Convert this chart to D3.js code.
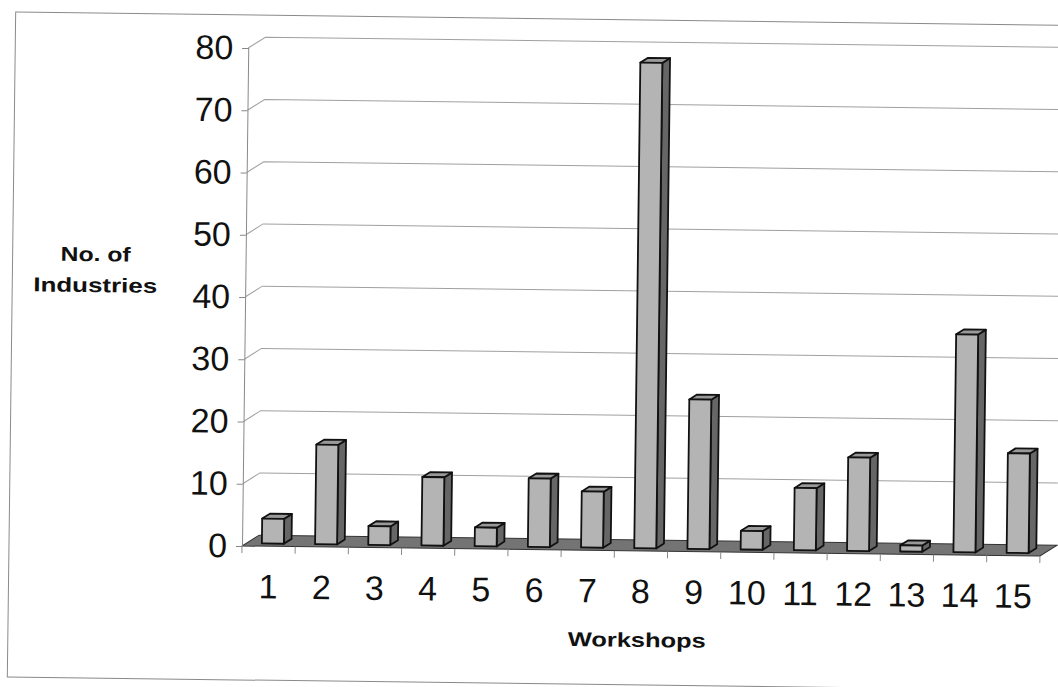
<!DOCTYPE html>
<html>
<head>
<meta charset="utf-8">
<script src="https://cdn.jsdelivr.net/npm/d3@7"></script>
<style>
  body { margin: 0; background: #fff; }
  svg { display: block; font-family: "Liberation Sans", Arial, sans-serif; }
</style>
</head>
<body>
<div id="chart"></div>
<script>
// ---- data ----
const workshops = ["1","2","3","4","5","6","7","8","9","10","11","12","13","14","15"];
const industries = [4, 16, 3, 11, 3, 11, 9, 78, 24, 3, 10, 15, 1, 35, 16];
const yTicks = [0, 10, 20, 30, 40, 50, 60, 70, 80];

const W = 1058, H = 687;
const DX = 17, DY = 11;          // depth of the 3D floor
const axisX = 242, floorY = 546, floorRight = 1040;

const svg = d3.select("#chart").append("svg")
  .attr("width", W).attr("height", H);

// whole scanned page is tilted a little
const g = svg.append("g").attr("transform", "rotate(0.72, 245, 545)");

// frame
g.append("rect")
  .attr("x", 9).attr("y", 15).attr("width", 1080).attr("height", 665)
  .attr("fill", "none").attr("stroke", "#8a8a8a").attr("stroke-width", 1);

const x = d3.scaleBand().domain(workshops).range([axisX, floorRight]);
const y = d3.scaleLinear().domain([0, 80]).range([floorY, 48]);

// gridlines on the back wall, with the diagonal from each tick
const grid = g.append("g").attr("stroke", "#a0a0a0").attr("stroke-width", 1).attr("fill", "none");
grid.selectAll("path").data(yTicks.filter(t => t > 0)).join("path")
  .attr("d", t => `M${axisX},${y(t)} L${axisX + DX},${y(t) - DY} L${floorRight + DX},${y(t) - DY}`);

// floor
g.append("path")
  .attr("d", `M${axisX},${floorY} L${floorRight},${floorY} L${floorRight + DX},${floorY - DY} L${axisX + DX},${floorY - DY} Z`)
  .attr("fill", "#747474").attr("stroke", "#333").attr("stroke-width", 1);

// x tick marks at band boundaries
const bounds = d3.range(workshops.length + 1).map(i => axisX + i * x.step());
g.append("g").selectAll("line").data(bounds).join("line")
  .attr("x1", d => d).attr("x2", d => d)
  .attr("y1", floorY).attr("y2", floorY + 7)
  .attr("stroke", "#888").attr("stroke-width", 1);

// y axis
const yAxis = g.append("g")
  .attr("transform", `translate(${axisX},0)`)
  .call(d3.axisLeft(y).tickValues(yTicks).tickSize(6).tickPadding(9));
yAxis.select(".domain").attr("stroke", "#888");
yAxis.selectAll(".tick line").attr("stroke", "#888");
yAxis.selectAll("text").attr("font-size", 34).attr("fill", "#111")
  .attr("font-family", "Liberation Sans, Arial, sans-serif");

// x axis labels
const xAxis = g.append("g")
  .attr("transform", `translate(0,${floorY})`)
  .call(d3.axisBottom(x).tickSize(0).tickPadding(28));
xAxis.select(".domain").remove();
xAxis.selectAll("text").attr("font-size", 34).attr("fill", "#111")
  .attr("font-family", "Liberation Sans, Arial, sans-serif");

// 3D columns
const f = 0.25, depth = 0.45;
const barW = 22;
const dx = DX * depth, dy = DY * depth;
const data = workshops.map((w, i) => ({ name: w, value: industries[i] }));

const bars = g.append("g").selectAll("g").data(data).join("g")
  .attr("stroke", "#111").attr("stroke-width", 1.8).attr("stroke-linejoin", "round");

function geo(d) {
  const bx = x(d.name) + (x.bandwidth() - barW) / 2 + f * DX;
  const base = y(0) - f * DY;
  const top = y(d.value) - f * DY;
  return { bx, base, top };
}

bars.append("path")
  .attr("fill", "#666")
  .attr("d", d => {
    const { bx, base, top } = geo(d);
    return `M${bx + barW},${top} L${bx + barW + dx},${top - dy} L${bx + barW + dx},${base - dy} L${bx + barW},${base} Z`;
  });
bars.append("path")
  .attr("fill", "#999")
  .attr("d", d => {
    const { bx, top } = geo(d);
    return `M${bx},${top} L${bx + dx},${top - dy} L${bx + barW + dx},${top - dy} L${bx + barW},${top} Z`;
  });
bars.append("rect")
  .attr("fill", "#b4b4b4")
  .attr("x", d => geo(d).bx)
  .attr("y", d => geo(d).top)
  .attr("width", barW)
  .attr("height", d => geo(d).base - geo(d).top);

// axis titles
const ttl = g.append("g").attr("font-weight", "bold").attr("font-size", 20)
  .attr("fill", "#111").attr("text-anchor", "middle");
ttl.append("text").attr("x", 92).attr("y", 263)
  .attr("textLength", 70).attr("lengthAdjust", "spacingAndGlyphs").text("No. of");
ttl.append("text").attr("x", 92).attr("y", 294)
  .attr("textLength", 124).attr("lengthAdjust", "spacingAndGlyphs").text("Industries");
ttl.append("text").attr("x", 638).attr("y", 642)
  .attr("textLength", 138).attr("lengthAdjust", "spacingAndGlyphs").text("Workshops");
</script>
</body>
</html>
